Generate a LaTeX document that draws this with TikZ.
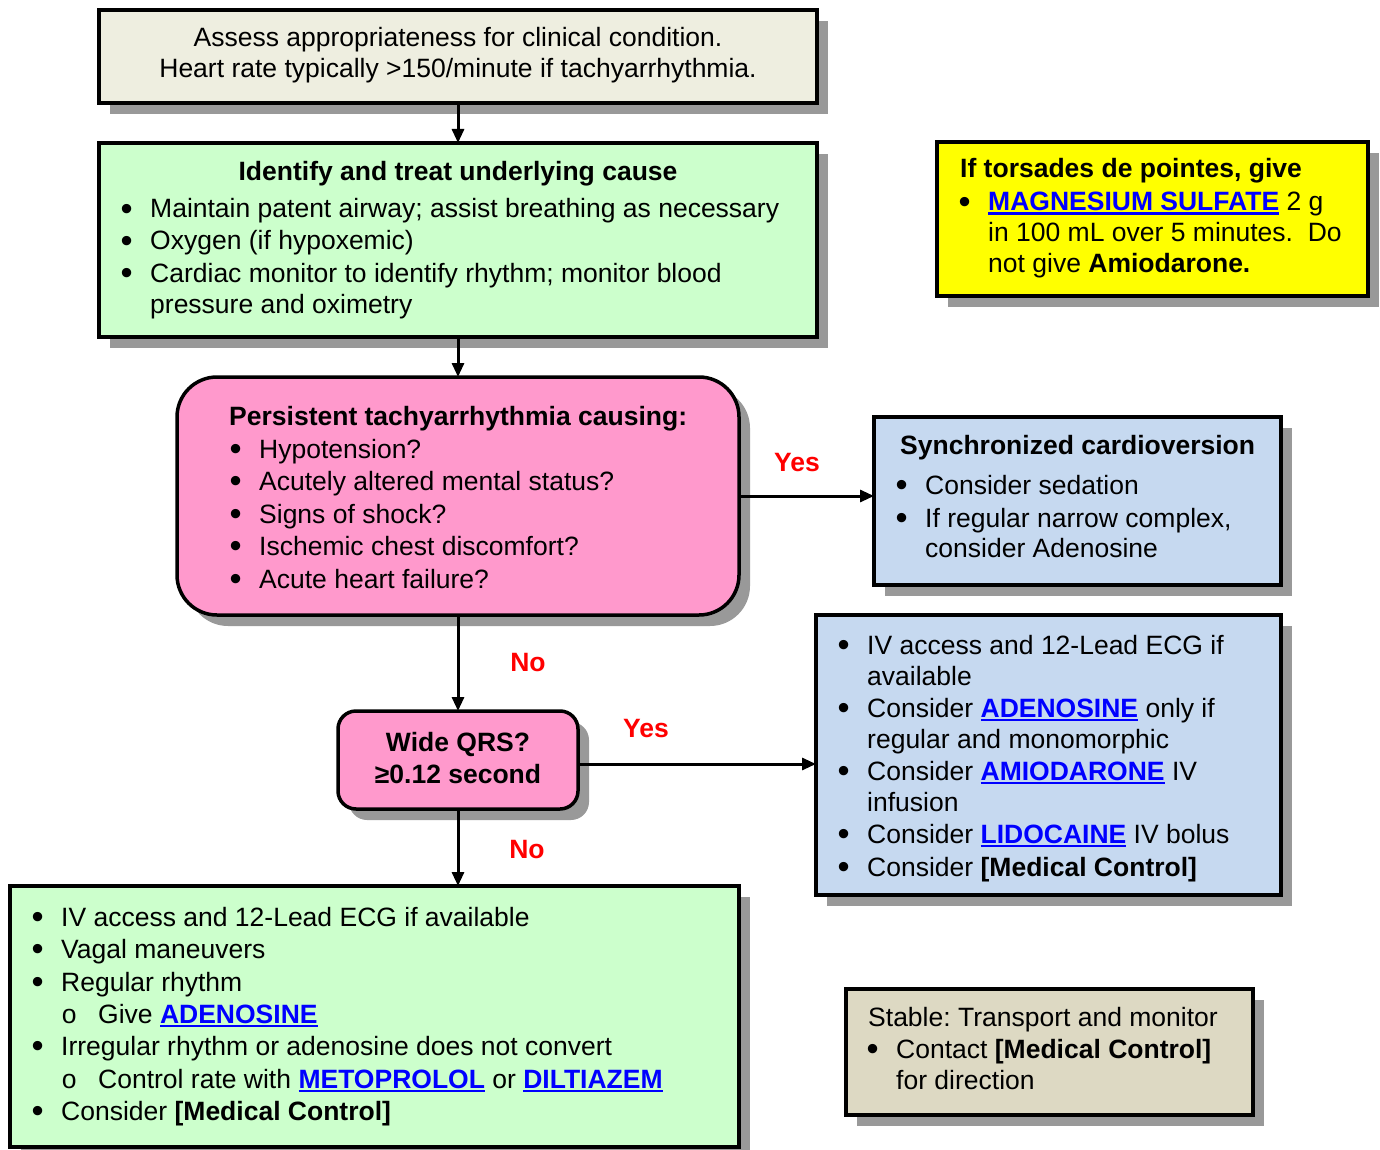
\documentclass[tikz,border=0pt]{standalone}
\usepackage{fontspec}
\usepackage{graphicx}
\setmainfont{Liberation Sans}
\usetikzlibrary{arrows.meta,shadows}
\frenchspacing

\definecolor{assessfill}{RGB}{238,238,224}
\definecolor{greenfill}{RGB}{204,255,204}
\definecolor{pinkfill}{RGB}{255,153,204}
\definecolor{bluefill}{RGB}{198,217,240}
\definecolor{tanfill}{RGB}{221,217,195}
\definecolor{yellowfill}{RGB}{255,255,0}
\definecolor{shadowgray}{RGB}{153,153,153}
\definecolor{linkblue}{RGB}{0,0,255}
\definecolor{answerred}{RGB}{255,0,0}

% hanging bullet and sub-bullet placed left of the line start
\newcommand\bul{\llap{\raisebox{-2.5pt}{\scalebox{1.3}{\textbullet}}\hspace{17.5pt}}}
\newcommand\subb{\llap{o\hspace{21.5pt}}}
% bold blue underlined drug name
\newcommand\lnk[1]{{\color{linkblue}\bfseries\setbox0=\hbox{#1}\rlap{\rule[-4pt]{\wd0}{2.5pt}}\box0}}

\begin{document}
\begin{tikzpicture}[x=1pt,y=-1pt,
  every node/.style={font=\fontsize{26.5pt}{31.5pt}\selectfont},
  box/.style={draw=black, line width=3.5pt, anchor=north west, inner sep=0pt, outer sep=0pt,
    general shadow={fill=shadowgray, draw=none, shadow xshift=11pt, shadow yshift=-11pt}},
  txt/.style={anchor=base west, inner sep=0pt},
  ctxt/.style={anchor=base, inner sep=0pt},
  answer/.style={anchor=base, inner sep=0pt, text=answerred, font=\fontsize{26.5pt}{31.5pt}\selectfont\bfseries},
  arr/.style={line width=3pt, -{Triangle[length=14pt,width=12pt]}}]

\useasboundingbox (0,0) rectangle (1380,1150);

% boxes
\node[box, fill=assessfill, minimum width=718pt, minimum height=93pt] (assess) at (99,10) {};
\node[box, fill=greenfill, minimum width=718pt, minimum height=194pt] (cause) at (99,143) {};
\node[box, fill=pinkfill, rounded corners=40pt, minimum width=562pt, minimum height=238pt] (persist) at (177,377) {};
\node[box, fill=pinkfill, rounded corners=18pt, minimum width=240pt, minimum height=98pt] (qrs) at (338,711) {};
\node[box, fill=greenfill, minimum width=729pt, minimum height=261pt] (narrow) at (10,886) {};
\node[box, fill=yellowfill, minimum width=431pt, minimum height=154pt] (torsades) at (937,142) {};
\node[box, fill=bluefill, minimum width=407pt, minimum height=168pt] (sync) at (874,417) {};
\node[box, fill=bluefill, minimum width=465pt, minimum height=280pt] (wide) at (816,615) {};
\node[box, fill=tanfill, minimum width=407pt, minimum height=126pt] (stable) at (846,989) {};

% assessment
\node[ctxt] (a1) at (458,47) {Assess appropriateness for clinical condition.};
\node[ctxt] (a2) at (458,78) {Heart rate typically >150/minute if tachyarrhythmia.};

% underlying cause
\node[ctxt] (c0) at (458,181) {\bfseries Identify and treat underlying cause};
\node[txt] (c1) at (150,218) {\bul Maintain patent airway; assist breathing as necessary};
\node[txt] (c2) at (150,250) {\bul Oxygen (if hypoxemic)};
\node[txt] (c3) at (150,282) {\bul Cardiac monitor to identify rhythm; monitor blood};
\node[txt] (c4) at (150,313) {pressure and oximetry};

% persistent tachyarrhythmia
\node[txt] (p0) at (229,425) {\bfseries Persistent tachyarrhythmia causing:};
\node[txt] (p1) at (259,458) {\bul Hypotension?};
\node[txt] (p2) at (259,490) {\bul Acutely altered mental status?};
\node[txt] (p3) at (259,523) {\bul Signs of shock?};
\node[txt] (p4) at (259,555) {\bul Ischemic chest discomfort?};
\node[txt] (p5) at (259,588) {\bul Acute heart failure?};

% wide QRS decision
\node[ctxt] (q1) at (458,751) {\bfseries Wide QRS?};
\node[ctxt] (q2) at (458,783) {\bfseries ≥0.12 second};

% narrow complex management
\node[txt] (g1) at (61,926) {\bul IV access and 12-Lead ECG if available};
\node[txt] (g2) at (61,958) {\bul Vagal maneuvers};
\node[txt] (g3) at (61,991) {\bul Regular rhythm};
\node[txt] (g4) at (98,1023) {\subb Give \lnk{ADENOSINE}};
\node[txt] (g5) at (61,1055) {\bul Irregular rhythm or adenosine does not convert};
\node[txt] (g6) at (98,1088) {\subb Control rate with \lnk{METOPROLOL} or \lnk{DILTIAZEM}};
\node[txt] (g7) at (61,1120) {\bul Consider \textbf{[Medical Control]}};

% torsades
\node[txt] (y0) at (960,178) {\bfseries If torsades de pointes, give};
\node[txt] (y1) at (988,211) {\bul \lnk{MAGNESIUM SULFATE} 2 g};
\node[txt] (y2) at (988,241) {in 100 mL over 5 minutes.\ \ Do};
\node[txt] (y3) at (988,272) {not give \textbf{Amiodarone.}};

% cardioversion
\node[txt] (s0) at (900,454) {\bfseries Synchronized cardioversion};
\node[txt] (s1) at (925,494) {\bul Consider sedation};
\node[txt] (s2) at (925,527) {\bul If regular narrow complex,};
\node[txt] (s3) at (925,557) {consider Adenosine};

% wide complex management
\node[txt] (d1) at (867,654) {\bul IV access and 12-Lead ECG if};
\node[txt] (d2) at (867,685) {available};
\node[txt] (d3) at (867,717) {\bul Consider \lnk{ADENOSINE} only if};
\node[txt] (d4) at (867,748) {regular and monomorphic};
\node[txt] (d5) at (867,780) {\bul Consider \lnk{AMIODARONE} IV};
\node[txt] (d6) at (867,811) {infusion};
\node[txt] (d7) at (867,843) {\bul Consider \lnk{LIDOCAINE} IV bolus};
\node[txt] (d8) at (867,876) {\bul Consider \textbf{[Medical Control]}};

% stable
\node[txt] (t1) at (868,1026) {Stable: Transport and monitor};
\node[txt] (t2) at (896,1058) {\bul Contact \textbf{[Medical Control]}};
\node[txt] (t3) at (896,1089) {for direction};

% answers
\node[answer] (yes1) at (797,471) {Yes};
\node[answer] (no1) at (528,671) {No};
\node[answer] (yes2) at (646,737) {Yes};
\node[answer] (no2) at (527,858) {No};

% connectors
\draw[arr] (assess.south) -- (cause.north);
\draw[arr] (cause.south) -- (persist.north);
\draw[arr] (persist.east) -- (persist.east -| sync.west);
\draw[arr] (persist.south) -- (qrs.north);
\draw[arr] ([yshift=-4pt]qrs.east) -- ([yshift=-4pt]qrs.east -| wide.west);
\draw[arr] (qrs.south) -- (qrs.south |- narrow.north);
\end{tikzpicture}
\end{document}
